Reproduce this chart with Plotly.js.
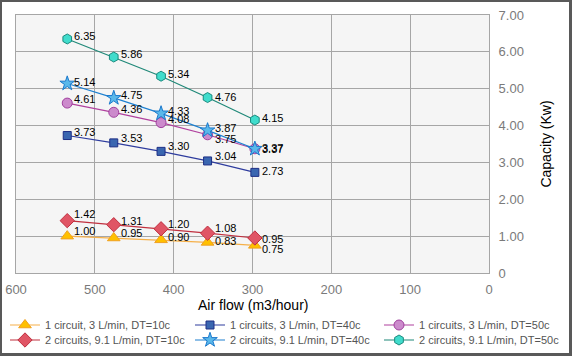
<!DOCTYPE html>
<html>
<head>
<meta charset="utf-8">
<script src="https://cdn.plot.ly/plotly-3.0.1.min.js"></script>
<style>
  html, body { margin: 0; padding: 0; background: #fff; }
  #wrap { position: relative; width: 572px; height: 356px; }
  #chart { width: 572px; height: 356px; }
  #frame { position: absolute; left: 0; top: 0; width: 572px; height: 356px; box-sizing: border-box;
           border-style: solid; border-color: #595959; border-width: 2px 3px 3px 2px; pointer-events: none; }
</style>
</head>
<body>
<div id="wrap"><div id="chart"></div><div id="frame"></div></div>
<script>
// ---- data ----
const airFlow = [535, 476, 416, 357, 297];
const c1_10 = [1.00, 0.95, 0.90, 0.83, 0.75];
const c2_10 = [1.42, 1.31, 1.20, 1.08, 0.95];
const c1_40 = [3.73, 3.53, 3.30, 3.04, 2.73];
const c2_40 = [5.14, 4.75, 4.33, 3.87, 3.37];
const c1_50 = [4.61, 4.36, 4.08, 3.75, 3.37];
const c2_50 = [6.35, 5.86, 5.34, 4.76, 4.15];
const seriesNames = [
  "1 circuit, 3 L/min, DT=10c",
  "1 circuits, 3 L/min, DT=40c",
  "1 circuits, 3 L/min, DT=50c",
  "2 circuits, 9.1 L/min, DT=10c",
  "2 circuits, 9.1 L/min, DT=40c",
  "2 circuits, 9.1 L/min, DT=50c"
];
const xTitle = "Air flow (m3/hour)";
const yTitle = "Capacity (Kw)";
const xTickVals = [600, 500, 400, 300, 200, 100, 0];
const xTickText = ["600", "500", "400", "300", "200", "100", "0"];
const yTickVals = [0, 1, 2, 3, 4, 5, 6, 7];
const yTickText = ["0", "1.00", "2.00", "3.00", "4.00", "5.00", "6.00", "7.00"];

// ---- styles ----
const styles = [
  {y: c1_10, sym: "triangle-up", size: 11, fill: "#FFC000", edge: "#F0A020", line: "#F5B04A", shift: [5, 5, 3, 1, -4]},
  {y: c1_40, sym: "square",      size: 8,  fill: "#3A66B0", edge: "#1E2F86", line: "#2E3C9E", shift: [4, 5, 5, 5, 1]},
  {y: c1_50, sym: "circle",      size: 10, fill: "#CC8ACC", edge: "#A0409E", line: "#B0409E", shift: [4, 3, 4, -4, 1]},
  {y: c2_10, sym: "diamond",     size: 11, fill: "#E05565", edge: "#C03040", line: "#C0303F", shift: [7, 4, 5, 5, -1]},
  {y: c2_40, sym: "star",        size: 11, fill: "#5AB8EA", edge: "#1A78CC", line: "#1E80D0", shift: [2, 3, 2, 2, 0]},
  {y: c2_50, sym: "hexagon",     size: 10, fill: "#40DCCC", edge: "#1A8A7E", line: "#1F8878", shift: [3, 3, 2, 1, 2]}
];
// legend slots: column left edges and row centres (px in the 572x356 canvas)
const legendColX = [5, 190, 379];
const legendRowY = [325, 340];

const legendKey = i => (i === 0 ? "legend" : "legend" + (i + 1));

const traces = styles.map((s, i) => ({
  type: "scatter",
  mode: "lines+markers",
  x: airFlow,
  y: s.y,
  name: seriesNames[i],
  legend: legendKey(i),
  line: {color: s.line, width: 1.2},
  marker: {symbol: s.sym, size: s.size, color: s.fill, line: {color: s.edge, width: 1}},
  hoverinfo: "x+y"
}));

const annotations = [];
styles.forEach(s => {
  s.y.forEach((v, j) => {
    annotations.push({
      x: airFlow[j], y: v, xref: "x", yref: "y",
      text: v.toFixed(2), showarrow: false,
      xanchor: "left", yanchor: "middle",
      xshift: 5, yshift: s.shift[j],
      font: {family: "Liberation Sans, Arial, sans-serif", size: 11, color: "#000"}
    });
  });
});
// x-axis title placed as a paper annotation below the tick labels
annotations.push({
  x: 0.5, y: (273 - 305) / 258, xref: "paper", yref: "paper",
  text: xTitle, showarrow: false, xanchor: "center", yanchor: "middle",
  font: {family: "Liberation Sans, Arial, sans-serif", size: 14, color: "#000"}
});

const layout = {
  width: 572, height: 356,
  margin: {l: 16, r: 83, t: 15, b: 83},
  paper_bgcolor: "#ffffff",
  plot_bgcolor: "#f5f5f5",
  showlegend: true,
  xaxis: {
    range: [600, 0],
    automargin: false,
    tickvals: xTickVals, ticktext: xTickText,
    showgrid: true, gridcolor: "#A6A6A6", gridwidth: 1,
    zeroline: false,
    showline: true, linecolor: "#A6A6A6", linewidth: 1, mirror: true,
    ticks: "", ticklabelstandoff: 4,
    tickfont: {family: "Liberation Sans, Arial, sans-serif", size: 13, color: "#7a7a7a"}
  },
  yaxis: {
    range: [0, 7],
    side: "right",
    automargin: false,
    tickvals: yTickVals, ticktext: yTickText,
    showgrid: true, gridcolor: "#A6A6A6", gridwidth: 1,
    zeroline: false,
    showline: true, linecolor: "#A6A6A6", linewidth: 1, mirror: true,
    ticks: "", ticklabelstandoff: 6,
    tickfont: {family: "Liberation Sans, Arial, sans-serif", size: 13, color: "#7a7a7a"},
    title: {text: yTitle, standoff: 18,
            font: {family: "Liberation Sans, Arial, sans-serif", size: 14, color: "#000"}}
  },
  annotations: annotations
};

styles.forEach((s, i) => {
  layout[legendKey(i)] = {
    orientation: "h",
    xref: "container", yref: "container",
    xanchor: "left", yanchor: "middle",
    x: legendColX[i % 3] / 572,
    y: 1 - legendRowY[Math.floor(i / 3)] / 356,
    bgcolor: "rgba(0,0,0,0)",
    borderwidth: 0,
    itemwidth: 30,
    font: {family: "Liberation Sans, Arial, sans-serif", size: 11, color: "#555"}
  };
});

Plotly.newPlot("chart", traces, layout, {displayModeBar: false, staticPlot: true});
</script>
</body>
</html>
